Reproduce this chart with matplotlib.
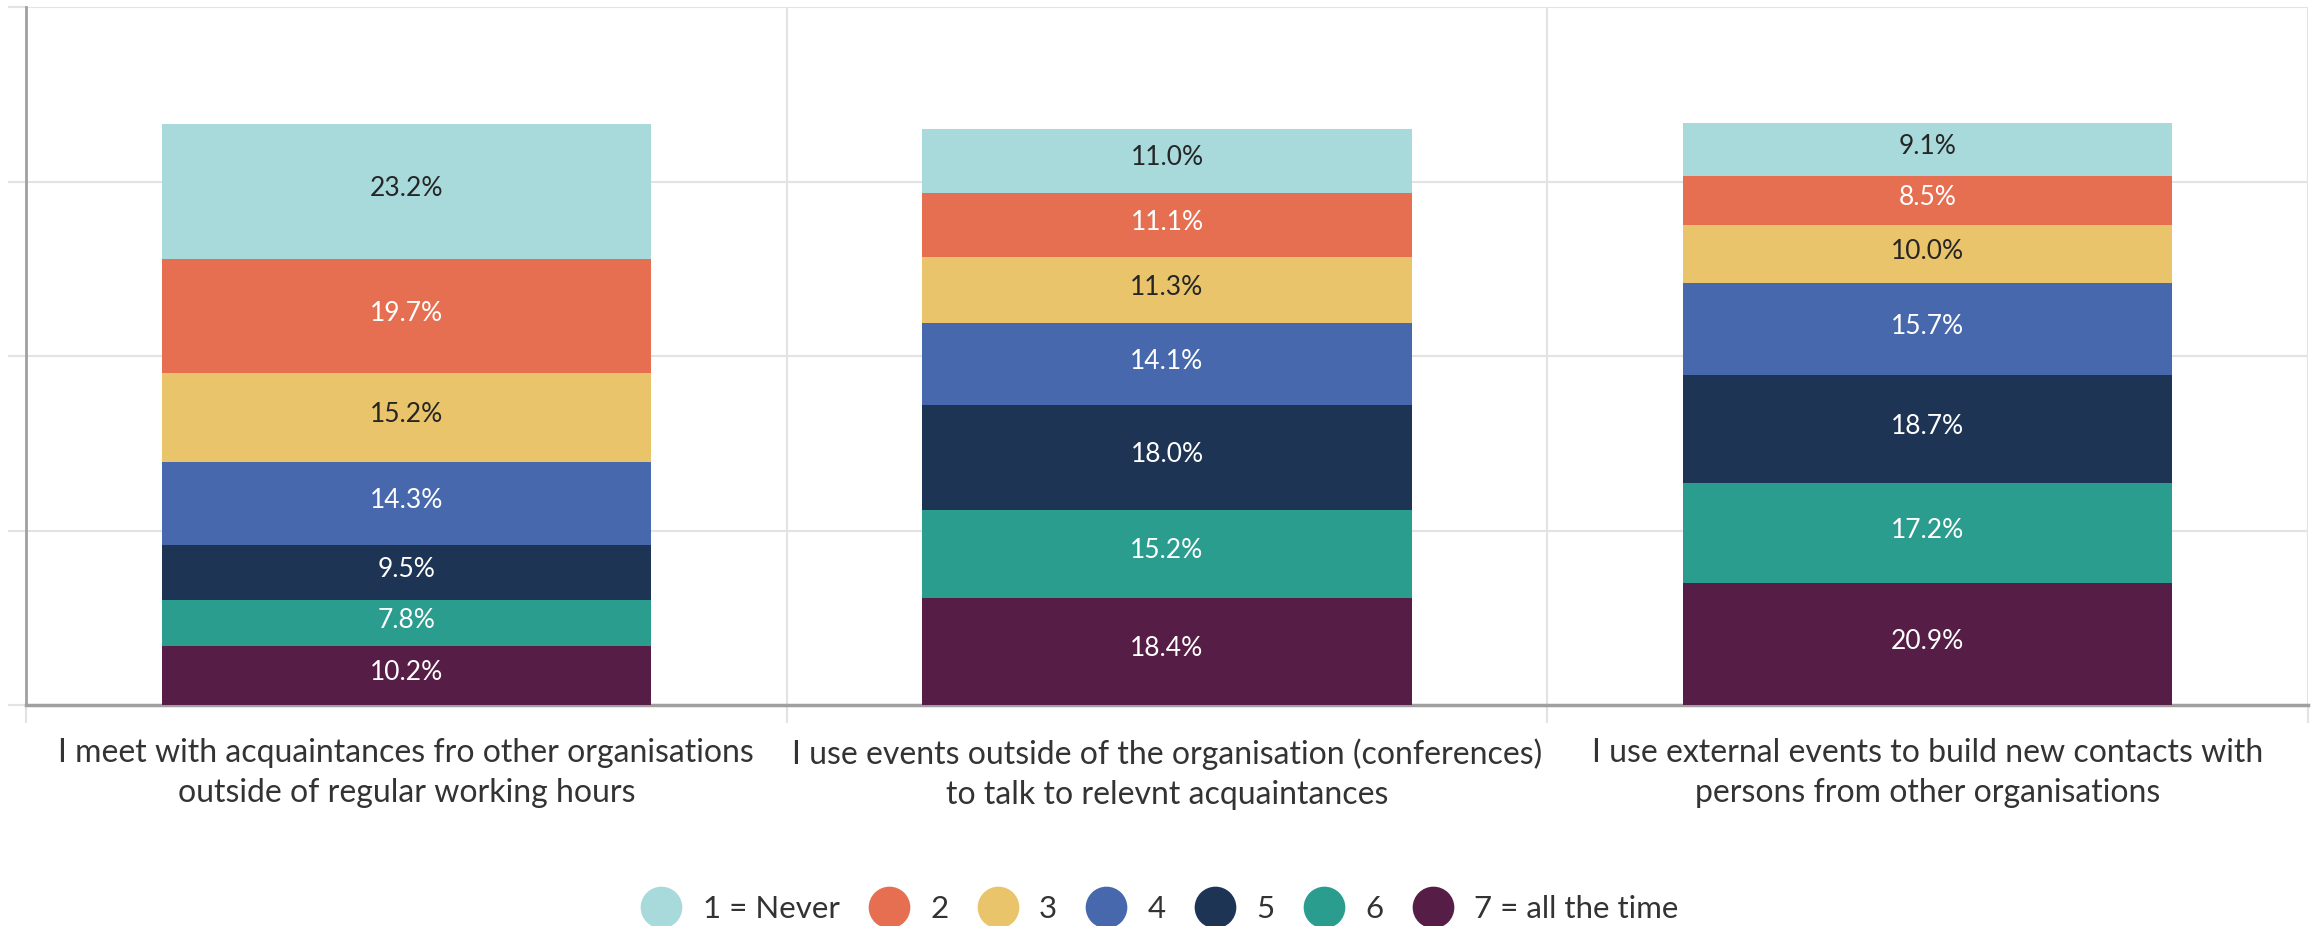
import numpy as np
import matplotlib
matplotlib.use('Agg')
import matplotlib.pyplot as plt
from matplotlib.lines import Line2D

plt.rcParams['font.family'] = ['Lato', 'DejaVu Sans']

categories = [
    "I meet with acquaintances fro other organisations\noutside of regular working hours",
    "I use events outside of the organisation (conferences)\nto talk to relevnt acquaintances",
    "I use external events to build new contacts with\npersons from other organisations",
]
levels = ["1 = Never", "2", "3", "4", "5", "6", "7 = all the time"]

# percentages per answer level, one value per statement
never = [23.2, 11.0, 9.1]
level2 = [19.7, 11.1, 8.5]
level3 = [15.2, 11.3, 10.0]
level4 = [14.3, 14.1, 15.7]
level5 = [9.5, 18.0, 18.7]
level6 = [7.8, 15.2, 17.2]
all_the_time = [10.2, 18.4, 20.9]

series = [never, level2, level3, level4, level5, level6, all_the_time]
colors = ['#a8dadc', '#e76f51', '#e9c46a', '#4868ad', '#1e3455', '#2a9d8f', '#561e46']
text_colors = ['#262626', 'white', '#262626', 'white', 'white', 'white', 'white']

fig = plt.figure(figsize=(23.2, 9.26), dpi=100)
ax = fig.add_axes([26 / 2320, 1 - 705 / 926, (2308 - 26) / 2320, (705 - 7) / 926])

x = np.arange(len(categories))
bottom = np.zeros(len(categories))
# stack from "all the time" at the bottom up to "never" on top
for vals, col, tcol in reversed(list(zip(series, colors, text_colors))):
    vals = np.array(vals)
    ax.bar(x, vals, width=0.643, bottom=bottom, color=col, zorder=3)
    for xi, b, v in zip(x, bottom, vals):
        ax.annotate(f"{v:.1f}%", (xi, b + v / 2), xytext=(0, 2), textcoords='offset points',
                    ha='center', va='center', color=tcol, fontsize=19, zorder=4)
    bottom += vals

ax.set_xlim(-0.5, 2.5)
ax.set_ylim(0, 120)
ax.set_yticks([0, 30, 60, 90, 120])
ax.set_yticklabels([])
ax.tick_params(axis='y', length=13, color='#e3e3e3', width=1.5)

ax.set_xticks(x)
ax.set_xticklabels(categories, fontsize=23, color='#333333', linespacing=1.42)
ax.tick_params(axis='x', which='major', length=0, pad=24)
ax.set_xticks([-0.5, 0.5, 1.5, 2.5], minor=True)
ax.tick_params(axis='x', which='minor', length=13, color='#e3e3e3', width=1.5)

ax.grid(axis='y', color='#e3e3e3', linewidth=1.5, zorder=0)
ax.grid(axis='x', which='minor', color='#e3e3e3', linewidth=1.5, zorder=0)

for side in ['top', 'right']:
    ax.spines[side].set_visible(False)
ax.spines['left'].set_color('#a0a0a0')
ax.spines['left'].set_linewidth(2)
ax.spines['bottom'].set_color('#a0a0a0')
ax.spines['bottom'].set_linewidth(2.5)

handles = [Line2D([], [], marker='o', linestyle='', markersize=29, color=c) for c in colors]
fig.legend(handles, levels, ncol=7, loc='center', bbox_to_anchor=(0.5, 1 - 909 / 926),
           frameon=False, fontsize=22.5, handlelength=1.25, handletextpad=0.7,
           columnspacing=0.95, labelcolor='#333333')

fig.savefig('out.png', dpi=100)
plt.close(fig)
